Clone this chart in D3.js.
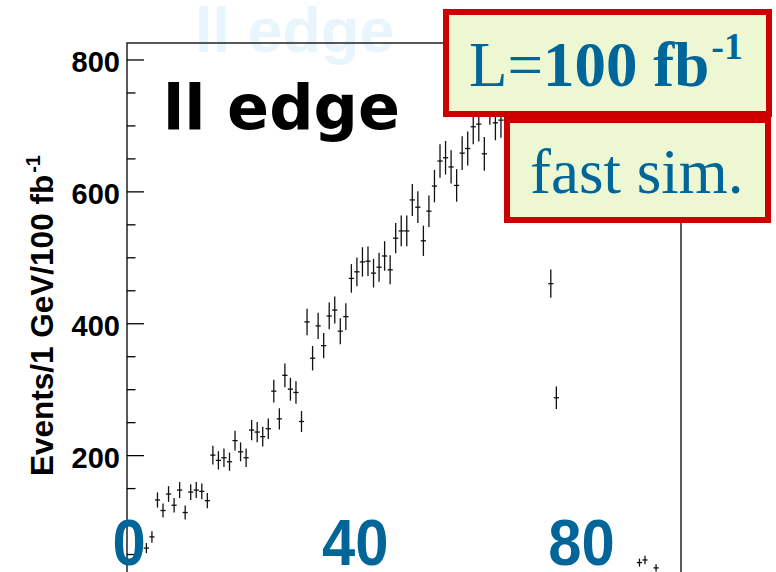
<!DOCTYPE html>
<html>
<head>
<meta charset="utf-8">
<script src="https://cdn.jsdelivr.net/npm/d3@7"></script>
<style>
  html, body { margin: 0; padding: 0; background: #fff; }
  svg { display: block; }
</style>
</head>
<body>
<svg id="chart" width="776" height="572"></svg>
<script>
// Dilepton invariant mass, 1 GeV bins (lower bin edge in GeV)
const massBins = [3, 4, 5, 6, 7, 8, 9, 10, 11, 12, 13, 14, 15, 16, 17, 18, 19, 20,
  21, 22, 23, 24, 25, 26, 27, 28, 29, 30, 31, 32, 33, 34, 35, 36, 37, 38, 39, 40,
  41, 42, 43, 44, 45, 46, 47, 48, 49, 50, 51, 52, 53, 54, 55, 56, 57, 58, 59, 60,
  61, 62, 63, 64, 65, 66, 67, 76, 77, 92, 93, 95];
// Events per bin for 100 fb^-1
const events = [59, 76, 132, 116, 141, 124, 147, 113, 144, 147, 145, 131, 200, 192, 196, 190, 222, 205,
  196, 238, 235, 228, 240, 297, 255, 321, 300, 295, 251, 402, 347, 396, 366, 411, 420, 388, 410, 468,
  478, 493, 494, 476, 485, 502, 481, 529, 540, 540, 587, 576, 525, 570, 608, 646, 651, 637, 609, 658,
  665, 698, 702, 657, 728, 704, 708, 460, 287, 37, 41, 29];

const yMajorTicks = [200, 400, 600, 800];
const yMinorTicks = [50, 100, 150, 250, 300, 350, 450, 500, 550, 650, 700, 750];
const xTickLabels = [0, 40, 80];

const yTitle = "Events/1 GeV/100 fb";
const yTitleSup = "-1";
const titleText = "ll edge";
const lumiPlain = "L=";
const lumiBold = "100 fb";
const lumiSup = "-1";
const simText = "fast sim.";

const BLUE = "#006699";
const RED = "#cc0000";
const PANEL = "#edf8d3";
const SANS = "'Liberation Sans', Arial, sans-serif";
const SERIF = "'Liberation Serif', 'Times New Roman', serif";

const svg = d3.select("#chart");

const x = d3.scaleLinear().domain([0, 100]).range([127, 681]);
const y = d3.scaleLinear().domain([0, 825]).range([587, 43]);
// Overlay tick labels for the mass axis
const xLabel = d3.scaleLinear().domain([0, 80]).range([129, 581.5]);

// Faded watermark title behind the frame
svg.append("text")
  .attr("x", 195).attr("y", 52)
  .attr("font-family", SANS).attr("font-weight", "bold")
  .attr("font-size", 63)
  .attr("fill", "#e8f5fd")
  .text(titleText);

// Frame
svg.append("rect")
  .attr("x", x(0)).attr("y", y(825))
  .attr("width", x(100) - x(0)).attr("height", y(0) - y(825))
  .attr("fill", "none").attr("stroke", "#000").attr("stroke-width", 1.3);

// Y axis: major ticks with labels, then minor ticks, both pointing inward
const yMajor = d3.axisLeft(y).tickValues(yMajorTicks)
  .tickSizeInner(-17).tickSizeOuter(0).tickPadding(7);
const gMaj = svg.append("g").attr("transform", `translate(${x(0)},0)`).call(yMajor);
gMaj.select(".domain").remove();
gMaj.selectAll(".tick line").attr("stroke", "#000").attr("stroke-width", 1.3);
gMaj.selectAll(".tick text")
  .attr("font-family", SANS).attr("font-weight", "bold")
  .attr("font-size", 29).attr("fill", "#000")
  .attr("dy", "0.43em");

const yMinor = d3.axisLeft(y).tickValues(yMinorTicks)
  .tickSizeInner(-8.5).tickSizeOuter(0).tickFormat("");
const gMin = svg.append("g").attr("transform", `translate(${x(0)},0)`).call(yMinor);
gMin.select(".domain").remove();
gMin.selectAll(".tick line").attr("stroke", "#000").attr("stroke-width", 1.3);

// Y axis title
const yt = svg.append("text")
  .attr("transform", "translate(53,476) rotate(-90)")
  .attr("font-family", SANS).attr("font-weight", "bold")
  .attr("font-size", 31.5).attr("fill", "#000");
yt.append("tspan").text(yTitle);
yt.append("tspan").attr("font-size", 20).attr("dy", -13).attr("dx", 2).text(yTitleSup);

// Histogram points with Poisson error bars
const pts = svg.append("g").attr("stroke", "#111").attr("stroke-width", 1.3);
massBins.forEach((b, i) => {
  const cx = x(b + 0.5);
  const v = events[i];
  const err = Math.sqrt(v);
  pts.append("line")
    .attr("x1", cx).attr("x2", cx)
    .attr("y1", y(v + err)).attr("y2", y(v - err));
  pts.append("line")
    .attr("x1", cx - 2.6).attr("x2", cx + 2.6)
    .attr("y1", y(v)).attr("y2", y(v));
});

// Title
svg.append("text")
  .attr("x", 163).attr("y", 129)
  .attr("font-family", "'DejaVu Sans', Verdana, sans-serif").attr("font-weight", "bold")
  .attr("font-size", 62).attr("fill", "#000")
  .text(titleText);

// Mass axis labels
svg.append("g").selectAll("text")
  .data(xTickLabels).join("text")
  .attr("transform", d => `translate(${xLabel(d)},565) scale(0.92,1)`)
  .attr("text-anchor", "middle")
  .attr("font-family", SANS).attr("font-weight", "bold")
  .attr("font-size", 65).attr("fill", BLUE)
  .text(d => d);

// Luminosity and simulation panels
function panel(x0, y0, w, h) {
  svg.append("rect")
    .attr("x", x0 + 3).attr("y", y0 + 3)
    .attr("width", w - 6).attr("height", h - 6)
    .attr("fill", PANEL).attr("stroke", RED).attr("stroke-width", 6);
}
panel(504, 117, 267, 106);
panel(443, 9, 329, 108);

const lumi = svg.append("text")
  .attr("x", 469).attr("y", 86)
  .attr("font-family", SERIF).attr("font-size", 63).attr("fill", BLUE);
lumi.append("tspan").text(lumiPlain);
lumi.append("tspan").attr("font-weight", "bold").text(lumiBold);
lumi.append("tspan").attr("font-weight", "bold").attr("font-size", 38)
  .attr("dy", -27).attr("dx", 2).text(lumiSup);

svg.append("text")
  .attr("x", 530).attr("y", 193)
  .attr("font-family", SERIF).attr("font-size", 63).attr("fill", BLUE)
  .text(simText);
</script>
</body>
</html>
